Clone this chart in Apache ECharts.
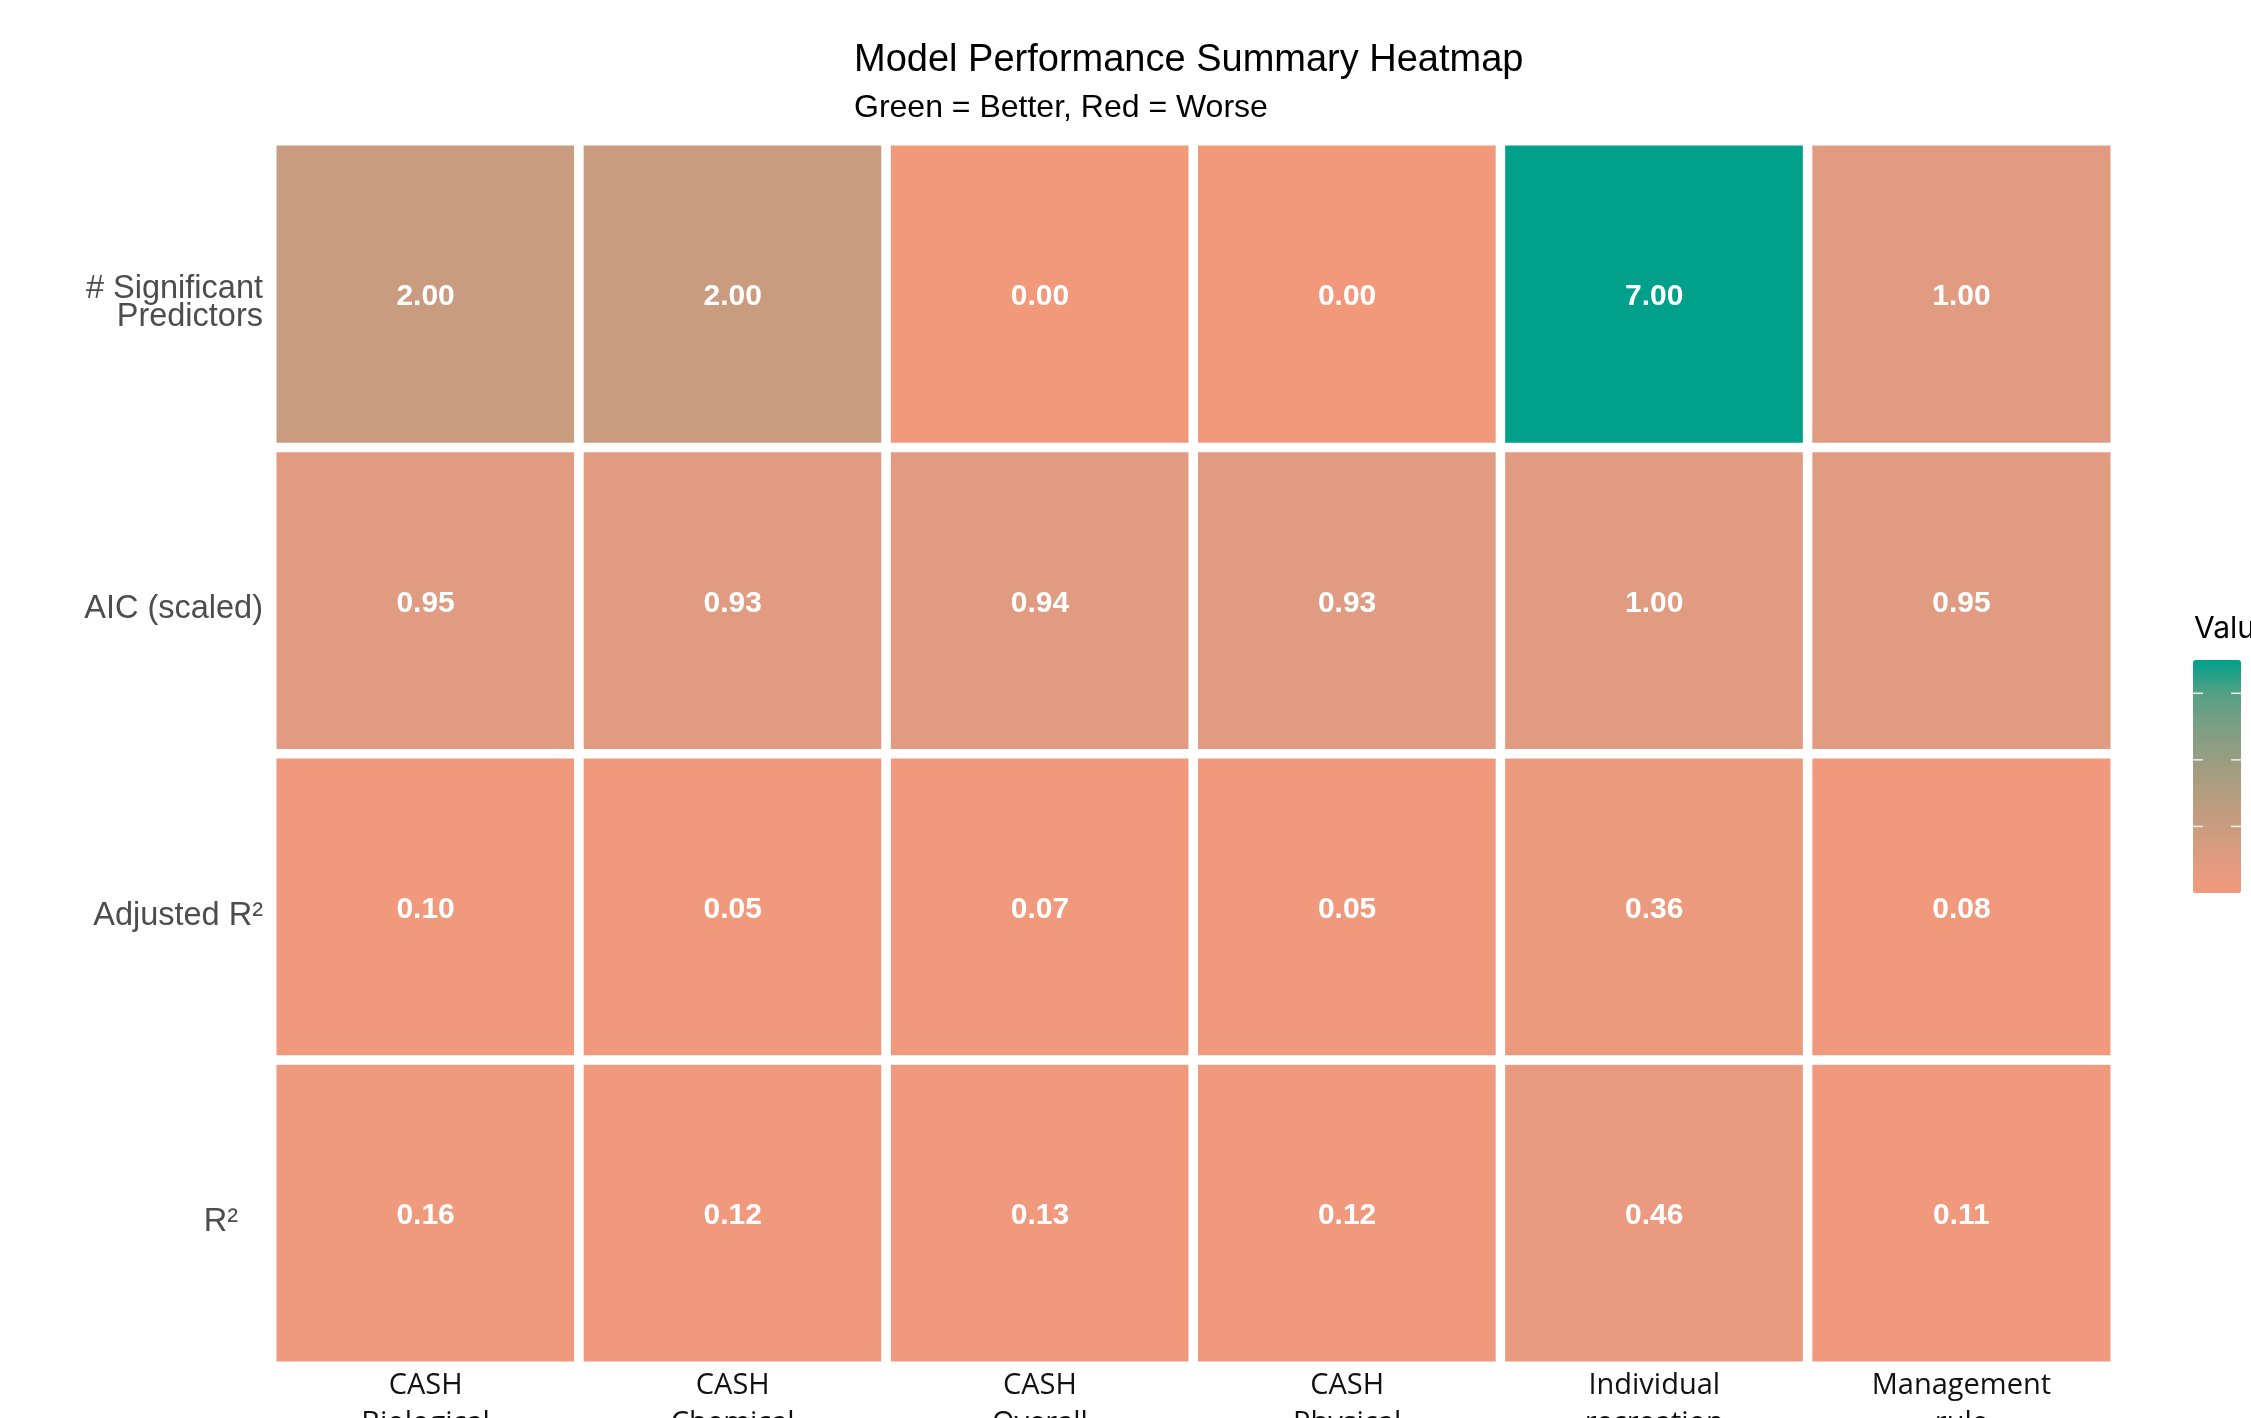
<!DOCTYPE html>
<html>
<head>
<meta charset="utf-8">
<script src="https://cdn.jsdelivr.net/npm/echarts@6/dist/echarts.min.js"></script>
<style>
  html, body { margin: 0; padding: 0; background: #fff; }
  #main { width: 2251px; height: 1418px; }
</style>
</head>
<body>
<div id="main"></div>
<script>
// models (x axis) and metrics (y axis, bottom to top)
var models = ['CASH\nBiological', 'CASH\nChemical', 'CASH\nOverall', 'CASH\nPhysical', 'Individual\nrecreation', 'Management\nrule'];
var metrics = ['R²', 'Adjusted R²', 'AIC (scaled)', '# Significant\nPredictors'];

// values per metric, in model order
var r2 = [0.16, 0.12, 0.13, 0.12, 0.46, 0.11];
var adjR2 = [0.10, 0.05, 0.07, 0.05, 0.36, 0.08];
var aicScaled = [0.95, 0.93, 0.94, 0.93, 1.00, 0.95];
var sigPredictors = [2, 2, 0, 0, 7, 1];

// colour ramp, one stop per integer from 0 to 7 (red = worse, green = better)
var rampColors = ['#F2997C', '#E09B80', '#C99C7F', '#B39D80', '#9A9D81', '#7C9F84', '#53A086', '#00A08A'];
var legendTicks = [2, 4, 6];

var rows = [r2, adjR2, aicScaled, sigPredictors];
var data = [];
rows.forEach(function (row, y) {
    row.forEach(function (v, x) {
        data.push([x, y, v]);
    });
});

// legend bar geometry
var barLeft = 2193, barTop = 660, barW = 48, barH = 233;
var vMin = 0, vMax = 7;

var tickLines = [];
legendTicks.forEach(function (t) {
    var ty = barTop + (1 - (t - vMin) / (vMax - vMin)) * barH;
    tickLines.push({
        type: 'line', silent: true, z: 100,
        shape: { x1: barLeft, y1: ty, x2: barLeft + 10, y2: ty },
        style: { stroke: 'rgba(255,255,255,0.85)', lineWidth: 1.5 }
    });
    tickLines.push({
        type: 'line', silent: true, z: 100,
        shape: { x1: barLeft + barW - 10, y1: ty, x2: barLeft + barW, y2: ty },
        style: { stroke: 'rgba(255,255,255,0.85)', lineWidth: 1.5 }
    });
});
tickLines.push({
    type: 'text', silent: true,
    left: 2194, top: 614,
    style: { text: 'Value', font: '30px Inter', fill: '#000' }
});

var chart = echarts.init(document.getElementById('main'));
var option = {
    backgroundColor: '#fff',
    animation: false,
    title: [
        {
            text: 'Model Performance Summary Heatmap',
            left: 854, top: 42, padding: 0,
            textStyle: { fontFamily: 'Liberation Sans', fontSize: 38, fontWeight: 'normal', color: '#000', lineHeight: 38 }
        },
        {
            text: 'Green = Better, Red = Worse',
            left: 854, top: 92, padding: 0,
            textStyle: { fontFamily: 'Liberation Sans', fontSize: 32, fontWeight: 'normal', color: '#000', lineHeight: 32 }
        }
    ],
    grid: { left: 272, right: 136, top: 141, bottom: 52, containLabel: false, outerBoundsMode: 'none' },
    xAxis: {
        type: 'category',
        data: models,
        axisLine: { show: false },
        axisTick: { show: false },
        splitArea: { show: false },
        axisLabel: {
            interval: 0,
            margin: 1,
            fontFamily: 'Open Sans',
            fontSize: 29,
            lineHeight: 38,
            color: '#111'
        }
    },
    yAxis: {
        type: 'category',
        data: metrics,
        axisLine: { show: false },
        axisTick: { show: false },
        splitArea: { show: false },
        axisLabel: {
            interval: 0,
            margin: 9,
            fontFamily: 'Liberation Sans',
            fontSize: 32.5,
            lineHeight: 28,
            color: '#4D4D4D',
            padding: [18, 0, 0, 0],
            formatter: function (v) {
                return v === 'R²' ? '{r|R²}' : v;
            },
            rich: {
                r: { fontFamily: 'Liberation Sans', fontSize: 32.5, color: '#4D4D4D', padding: [0, 25, 0, 0] }
            }
        }
    },
    visualMap: {
        type: 'continuous',
        min: vMin,
        max: vMax,
        calculable: false,
        orient: 'vertical',
        left: barLeft,
        top: barTop,
        padding: 0,
        itemWidth: barW,
        itemHeight: barH,
        text: null,
        showLabel: false,
        inRange: { color: rampColors }
    },
    graphic: tickLines,
    series: [{
        type: 'heatmap',
        data: data,
        itemStyle: { borderColor: '#fff', borderWidth: 9.5 },
        label: {
            show: true,
            color: '#fff',
            fontFamily: 'Liberation Sans',
            fontWeight: 'bold',
            fontSize: 30,
            offset: [0, 3],
            formatter: function (p) { return p.value[2].toFixed(2); }
        },
        emphasis: { disabled: true }
    }]
};
chart.setOption(option);
</script>
</body>
</html>
